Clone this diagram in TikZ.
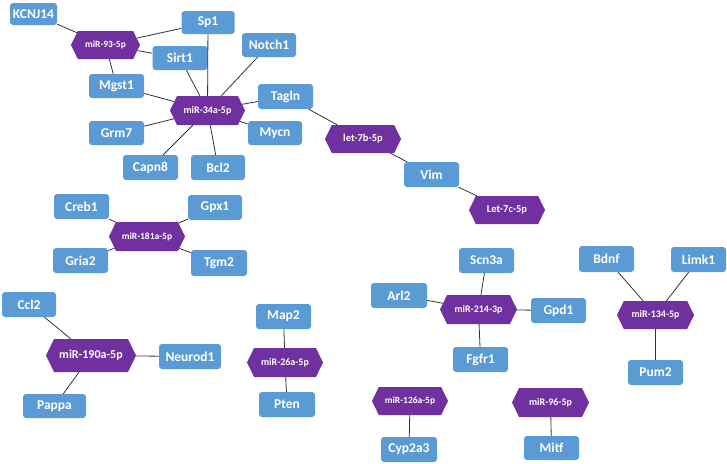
\documentclass[tikz,border=0pt]{standalone}
\usepackage{fontspec}
\setmainfont{Carlito}
\usetikzlibrary{shapes.symbols}
\definecolor{gbox}{HTML}{5B9BD5}
\definecolor{mirp}{HTML}{7030A0}
\definecolor{edgec}{HTML}{333333}
\tikzset{
  gene/.style={rectangle, rounded corners=3pt, fill=gbox, text=white, inner sep=0pt,
    minimum width=55pt, minimum height=25pt, font=\fontsize{13.5}{13.5}\selectfont\bfseries},
  mir/.style={signal, signal to=west and east, signal pointer angle=128, fill=mirp,
    text=white, inner sep=0pt, minimum width=76pt, minimum height=29pt,
    font=\fontsize{10}{10}\selectfont\bfseries},
  link/.style={draw=edgec, line width=0.8pt}
}
\begin{document}
\begin{tikzpicture}[x=1pt,y=-1pt]
\useasboundingbox (0,0) rectangle (727,463);
% miRNA nodes
\node[mir, minimum width=69pt, minimum height=28pt, font=\fontsize{9.5}{9.5}\selectfont\bfseries] (m93) at (105.5,45) {miR-93-5p};
\node[mir, minimum width=75pt] (m34) at (207.5,110.5) {miR-34a-5p};
\node[mir, minimum height=28pt, font=\fontsize{10.5}{10.5}\selectfont\bfseries] (l7b) at (363,139) {let-7b-5p};
\node[mir, minimum height=28pt, font=\fontsize{10.5}{10.5}\selectfont\bfseries] (l7c) at (507,210) {Let-7c-5p};
\node[mir, font=\fontsize{9.5}{9.5}\selectfont\bfseries] (m181) at (147,236.5) {miR-181a-5p};
\node[mir, minimum width=90pt, minimum height=33pt, font=\fontsize{12}{12}\selectfont\bfseries] (m190) at (91,355.5) {miR-190a-5p};
\node[mir] (m26) at (285,362.5) {miR-26a-5p};
\node[mir, minimum width=77pt] (m214) at (478.5,309.5) {miR-214-3p};
\node[mir, minimum width=77pt, minimum height=28pt] (m134) at (655.5,315) {miR-134-5p};
\node[mir, minimum height=28pt, font=\fontsize{9.5}{9.5}\selectfont\bfseries] (m126) at (410,401) {miR-126a-5p};
\node[mir, minimum width=77pt] (m96) at (550.5,402.5) {miR-96-5p};
% gene nodes
\node[gene, minimum width=47pt, minimum height=22pt] (kcnj) at (33.5,14) {KCNJ14};
\node[gene, minimum width=53pt, minimum height=23pt] (sp1) at (208,22.5) {Sp1};
\node[gene, minimum height=24pt] (sirt) at (180,58) {Sirt1};
\node[gene, minimum width=54pt, minimum height=24pt] (notch) at (269,45) {Notch1};
\node[gene, minimum height=24pt] (mgst) at (116.5,86) {Mgst1};
\node[gene] (tagln) at (285.5,96.5) {Tagln};
\node[gene, minimum height=24pt] (grm7) at (116.5,133) {Grm7};
\node[gene, minimum width=54pt, minimum height=24pt] (mycn) at (275,133) {Mycn};
\node[gene] (capn) at (150.5,167.5) {Capn8};
\node[gene, minimum width=54pt] (bcl2) at (218,167.5) {Bcl2};
\node[gene] (vim) at (431.5,174.5) {Vim};
\node[gene] (creb) at (81.5,206.5) {Creb1};
\node[gene, minimum width=54pt] (gpx) at (215,207.5) {Gpx1};
\node[gene] (gria) at (80.5,260.5) {Gria2};
\node[gene, minimum width=56pt, minimum height=26pt] (tgm) at (219,263) {Tgm2};
\node[gene, minimum width=54pt] (ccl2) at (29,304.5) {Ccl2};
\node[gene, minimum width=62pt] (neurod) at (190,356.5) {Neurod1};
\node[gene, minimum width=63pt, minimum height=24pt] (pappa) at (54.5,406) {Pappa};
\node[gene] (map2) at (283.5,316.5) {Map2};
\node[gene, minimum width=56pt] (pten) at (287,404.5) {Pten};
\node[gene] (scn) at (486.5,260.5) {Scn3a};
\node[gene, minimum height=26pt] (bdnf) at (606.5,259) {Bdnf};
\node[gene] (limk) at (698.5,259.5) {Limk1};
\node[gene, minimum width=56pt] (arl2) at (399,295.5) {Arl2};
\node[gene] (gpd) at (558.5,310.5) {Gpd1};
\node[gene] (fgfr) at (480.5,359.5) {Fgfr1};
\node[gene] (pum2) at (655.5,372.5) {Pum2};
\node[gene, minimum width=56pt] (cyp) at (409,449.5) {Cyp2a3};
\node[gene, minimum height=24pt] (mitf) at (551.5,448) {Mitf};
% links
\foreach \g in {kcnj,sp1,sirt,mgst} \draw[link] (m93) -- (\g);
\foreach \g in {sp1,sirt,notch,mgst,tagln,grm7,mycn,capn,bcl2} \draw[link] (m34) -- (\g);
\foreach \g in {tagln,vim} \draw[link] (l7b) -- (\g);
\draw[link] (l7c) -- (vim);
\foreach \g in {creb,gpx,gria,tgm} \draw[link] (m181) -- (\g);
\foreach \g in {ccl2,neurod,pappa} \draw[link] (m190) -- (\g);
\foreach \g in {map2,pten} \draw[link] (m26) -- (\g);
\foreach \g in {scn,arl2,gpd,fgfr} \draw[link] (m214) -- (\g);
\foreach \g in {bdnf,limk,pum2} \draw[link] (m134) -- (\g);
\draw[link] (m126) -- (cyp);
\draw[link] (m96) -- (mitf);
\end{tikzpicture}
\end{document}
